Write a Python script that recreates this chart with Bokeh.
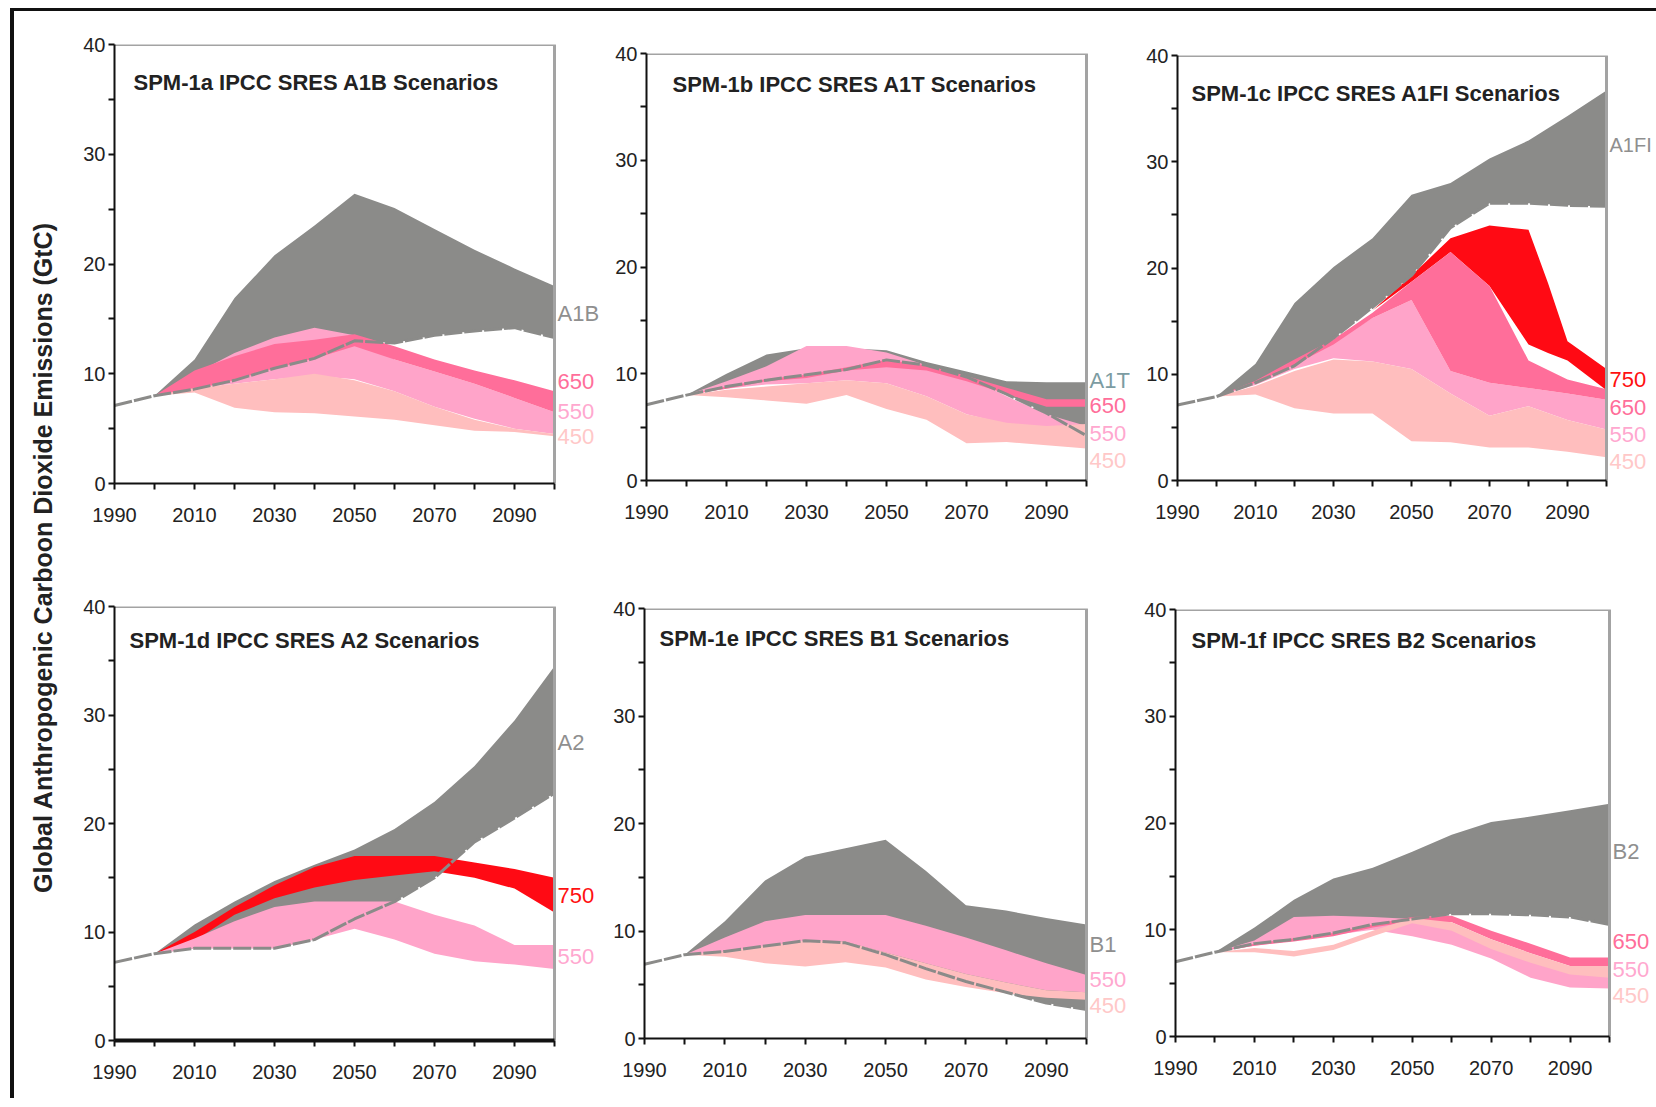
import math
from bokeh.plotting import figure
from bokeh.models import Range1d, FixedTicker, Label, Div, Spacer
from bokeh.layouts import row, column
from bokeh.embed import file_html
from bokeh.resources import INLINE

# ---------------- data (GtC) ----------------
YEARS = [2000, 2010, 2020, 2030, 2040, 2050, 2060, 2070, 2080, 2090, 2100]
LINE_YEARS = [1990] + YEARS

# SPM-1a  A1B
A_GRAY_HI = [8.0, 11.3, 16.9, 20.8, 23.5, 26.4, 25.1, 23.2, 21.3, 19.6, 18.0]
A_LINE = [7.1, 8.0, 8.6, 9.4, 10.5, 11.4, 13.0, 12.8, 13.5, 13.9, 14.2, 13.3]
A_650_HI = [8.0, 10.3, 11.6, 12.7, 13.1, 13.6, 12.5, 11.3, 10.3, 9.4, 8.4]
A_650_LO = [8.0, 8.6, 9.4, 10.5, 11.4, 12.5, 11.3, 10.2, 9.1, 7.8, 6.5]
A_550_HI = [8.0, 10.0, 11.9, 13.3, 14.2, 13.5, 11.3, 10.2, 9.1, 7.8, 6.5]
A_550_LO = [8.0, 8.7, 9.1, 9.5, 9.8, 9.5, 8.4, 7.0, 5.9, 5.0, 4.5]
A_450_HI = [8.0, 8.7, 9.1, 9.5, 10.0, 9.4, 8.4, 7.0, 5.8, 5.0, 4.5]
A_450_LO = [8.0, 8.3, 6.9, 6.5, 6.4, 6.1, 5.8, 5.3, 4.8, 4.7, 4.3]

# SPM-1b  A1T
B_GRAY_HI = [8.0, 10.0, 11.8, 12.4, 12.4, 12.2, 11.1, 10.2, 9.3, 9.2, 9.2]
B_LINE = [7.1, 8.0, 8.8, 9.4, 9.9, 10.4, 11.3, 10.8, 9.7, 8.1, 6.3, 4.2]
B_650_HI = [8.0, 8.8, 9.5, 9.9, 10.6, 11.3, 10.8, 9.8, 8.7, 7.6, 7.6]
B_650_LO = [8.0, 8.6, 9.3, 9.6, 10.3, 10.6, 10.3, 9.3, 8.1, 6.9, 6.9]
B_550_HI = [8.0, 9.3, 10.7, 12.6, 12.6, 12.0, 10.8, 9.8, 7.9, 6.2, 5.1]
B_550_LO = [8.0, 8.6, 9.0, 9.1, 9.4, 9.1, 7.9, 6.2, 5.3, 4.8, 4.0]
B_450_HI = [8.0, 8.5, 8.8, 9.1, 9.4, 9.1, 7.9, 6.2, 5.4, 5.1, 5.3]
B_450_LO = [8.0, 7.8, 7.5, 7.2, 8.0, 6.7, 5.7, 3.5, 3.6, 3.3, 3.0]

# SPM-1c  A1FI
C_GRAY_HI = [7.9, 11.0, 16.7, 20.1, 22.8, 26.9, 28.0, 30.3, 32.0, 34.3, 36.7]
C_LINE = [7.1, 7.9, 9.2, 10.8, 13.4, 16.3, 19.3, 23.8, 26.1, 26.1, 25.9, 25.8]
C_750_YEARS = [2040, 2050, 2060, 2070, 2080, 2085, 2090, 2100]
C_750_HI = [16.0, 19.3, 22.8, 24.0, 23.6, 18.6, 13.1, 10.5]
C_750_LO = [16.0, 18.7, 21.5, 18.3, 12.8, 12.0, 11.3, 8.5]
C_650_HI = [7.9, 9.4, 11.4, 13.3, 15.8, 18.7, 21.5, 18.3, 11.3, 9.5, 8.6]
C_650_LO = [7.9, 9.2, 10.9, 12.8, 15.3, 17.0, 10.3, 9.2, 8.7, 8.2, 7.6]
C_550_HI = [7.9, 9.2, 11.2, 13.0, 15.3, 17.0, 10.3, 9.2, 8.7, 8.2, 7.6]
C_550_LO = [7.9, 9.0, 10.5, 11.5, 11.2, 10.5, 8.2, 6.1, 7.0, 5.7, 4.8]
C_450_HI = [7.9, 8.9, 10.3, 11.4, 11.2, 10.5, 8.2, 6.1, 7.0, 5.7, 4.8]
C_450_LO = [7.9, 8.1, 6.8, 6.3, 6.3, 3.7, 3.6, 3.1, 3.1, 2.7, 2.2]

# SPM-1d  A2
D_GRAY_HI = [8.0, 10.7, 12.8, 14.7, 16.2, 17.6, 19.5, 22.0, 25.3, 29.5, 34.5]
D_LINE = [7.2, 8.0, 8.5, 8.5, 8.5, 9.3, 11.2, 12.8, 15.0, 18.3, 20.5, 22.8]
D_750_HI = [8.0, 10.0, 12.3, 14.3, 16.0, 17.0, 17.0, 17.0, 16.4, 15.8, 15.0]
D_750_LO = [8.0, 9.2, 11.6, 13.1, 14.1, 14.8, 15.2, 15.6, 15.0, 14.0, 11.8]
D_550_HI = [8.0, 9.4, 11.0, 12.3, 12.8, 12.8, 12.8, 11.6, 10.6, 8.8, 8.8]
D_550_LO = [8.0, 8.5, 8.5, 8.5, 9.3, 10.3, 9.3, 8.0, 7.3, 7.0, 6.6]

# SPM-1e  B1
E_GRAY_HI = [7.8, 10.9, 14.7, 16.9, 17.7, 18.5, 15.6, 12.4, 11.9, 11.2, 10.6]
E_LINE = [6.9, 7.8, 8.1, 8.6, 9.1, 8.9, 7.8, 6.5, 5.3, 4.3, 3.3, 2.7]
E_550_HI = [7.8, 9.4, 10.9, 11.5, 11.5, 11.5, 10.5, 9.4, 8.2, 7.0, 5.9]
E_550_LO = [7.8, 8.1, 8.6, 9.1, 9.0, 8.0, 7.0, 6.0, 5.2, 4.5, 4.3]
E_450_HI = [7.8, 8.1, 8.6, 9.1, 9.0, 8.0, 7.0, 6.0, 5.2, 4.5, 4.3]
E_450_LO = [7.8, 7.6, 7.0, 6.7, 7.1, 6.6, 5.5, 4.8, 4.2, 3.8, 3.6]

# SPM-1f  B2
F_GRAY_HI = [7.9, 10.2, 12.8, 14.8, 15.8, 17.3, 18.9, 20.1, 20.6, 21.2, 21.8]
F_LINE = [7.0, 7.9, 8.7, 9.1, 9.7, 10.5, 11.0, 11.5, 11.5, 11.4, 11.2, 10.5]
F_650_HI = [7.9, 8.7, 9.2, 9.7, 10.5, 11.2, 11.3, 9.9, 8.7, 7.4, 7.4]
F_650_LO = [7.9, 8.5, 8.9, 9.4, 10.2, 10.8, 10.7, 9.1, 7.8, 6.6, 6.6]
F_550_HI = [7.9, 9.0, 11.2, 11.3, 11.2, 11.0, 10.2, 8.9, 7.5, 6.4, 6.3]
F_550_LO = [7.9, 8.5, 9.0, 9.5, 10.0, 9.4, 8.6, 7.3, 5.5, 4.6, 4.5]
F_450_HI = [7.9, 8.3, 8.0, 8.6, 9.9, 11.1, 10.7, 9.1, 7.8, 6.6, 6.6]
F_450_LO = [7.9, 7.9, 7.5, 8.1, 9.4, 10.6, 9.9, 8.2, 6.9, 5.8, 5.5]

X_MAJOR = [1990, 2010, 2030, 2050, 2070, 2090]
X_MINOR = [2000, 2020, 2040, 2060, 2080, 2100]
Y_MAJOR = [0, 10, 20, 30, 40]
Y_MINOR = [5, 15, 25, 35]

# ---------------- styles ----------------
FONT = "Liberation Sans, Arial, sans-serif"
GRAY = "#8b8b89"
RED = "#ff0a14"
C650 = "#ff6e9a"
C550 = "#ffa4c9"
C450 = "#ffbebe"
T_GRAY = "#8f8f8f"
T_A1T = "#7c9ca2"
T_750 = "#ff1010"
T_650 = "#ff6e9a"
T_550 = "#ffa8cf"
T_450 = "#ffc8c8"

X0, X1 = X_MAJOR[0], X_MINOR[-1]
Y0, Y1 = Y_MAJOR[0], Y_MAJOR[-1]


def panel(title, bands, line, labels, W, H, bl, fw, bt, bb, tdx, tdy, xw=2):
    # the frame runs to the right edge of the canvas so that the end labels are not clipped;
    # the 1990-2100 span keeps its fw pixels
    x_end = X0 + (X1 - X0) * (W - bl) / fw
    p = figure(width=W, height=H, x_range=Range1d(X0, x_end), y_range=Range1d(Y0, Y1),
               output_backend="svg", toolbar_location=None, title=None,
               min_border_left=bl, min_border_right=0, min_border_top=bt, min_border_bottom=bb,
               background_fill_color="white", border_fill_color="white",
               outline_line_color=None)
    p.grid.visible = False
    for xs, lo, hi, col in bands:
        p.varea(x=xs, y1=lo, y2=hi, fill_color=col)
    p.line(LINE_YEARS, line, line_color=GRAY, line_width=3, line_dash="18 2")
    # grey box edge on top and right of the 1990-2100 area
    p.line([X0, X1, X1], [Y1, Y1, Y0], line_color="#a3a3a3", line_width=3)

    p.xaxis.ticker = FixedTicker(ticks=X_MAJOR, minor_ticks=X_MINOR)
    p.yaxis.ticker = FixedTicker(ticks=Y_MAJOR, minor_ticks=Y_MINOR)
    p.xaxis.bounds = (X0, X1)
    for ax in (p.xaxis, p.yaxis):
        ax.axis_line_color = "#111111"
        ax.major_tick_line_color = "#111111"
        ax.minor_tick_line_color = "#111111"
        ax.major_tick_line_width = 2
        ax.minor_tick_line_width = 2
        ax.major_tick_in = 0
        ax.minor_tick_in = 0
        ax.major_tick_out = 6
        ax.minor_tick_out = 6
        ax.major_label_text_font = FONT
        ax.major_label_text_font_size = "20px"
        ax.major_label_text_color = "#222222"
    p.xaxis.axis_line_width = xw
    p.yaxis.axis_line_width = 2
    p.xaxis.major_label_standoff = 18
    p.yaxis.major_label_standoff = 3

    p.add_layout(Label(x=X0, y=Y1, x_offset=tdx, y_offset=-tdy, text=title,
                       text_font=FONT, text_font_style="bold", text_font_size="22px",
                       text_color="#222222", text_baseline="middle", text_align="left"))
    for txt, yv, col in labels:
        size = "20px" if len(txt) > 3 else "22px"
        p.add_layout(Label(x=X1, y=yv, x_offset=3, text=txt, text_font=FONT,
                           text_font_size=size, text_color=col,
                           text_baseline="middle", text_align="left"))
    # wrap in its own column so that rows do not align the plot frames
    return column(p, margin=0)


fa = panel("SPM-1a IPCC SRES A1B Scenarios",
           [(YEARS, A_LINE[1:], A_GRAY_HI, GRAY), (YEARS, A_550_LO, A_550_HI, C550),
            (YEARS, A_650_LO, A_650_HI, C650), (YEARS, A_450_LO, A_450_HI, C450)],
           A_LINE, [("A1B", 15.5, T_GRAY), ("650", 9.3, T_650), ("550", 6.6, T_550), ("450", 4.3, T_450)],
           530, 545, 44, 440, 33, 73, 19, 38)
fb = panel("SPM-1b IPCC SRES A1T Scenarios",
           [(YEARS, B_LINE[1:], B_GRAY_HI, GRAY), (YEARS, B_550_LO, B_550_HI, C550),
            (YEARS, B_650_LO, B_650_HI, C650), (YEARS, B_450_LO, B_450_HI, C450)],
           B_LINE, [("A1T", 9.4, T_A1T), ("650", 7.0, T_650), ("550", 4.4, T_550), ("450", 1.9, T_450)],
           530, 545, 46, 440, 42, 76, 26, 31)
fc = panel("SPM-1c IPCC SRES A1FI Scenarios",
           [(YEARS, C_LINE[1:], C_GRAY_HI, GRAY), (C_750_YEARS, C_750_LO, C_750_HI, RED),
            (YEARS, C_550_LO, C_550_HI, C550), (YEARS, C_650_LO, C_650_HI, C650),
            (YEARS, C_450_LO, C_450_HI, C450)],
           C_LINE, [("A1FI", 31.6, T_GRAY), ("750", 9.5, T_750), ("650", 6.9, T_650),
                    ("550", 4.3, T_550), ("450", 1.8, T_450)],
           526, 545, 47, 429, 44, 76, 14, 38)
fd = panel("SPM-1d IPCC SRES A2 Scenarios",
           [(YEARS, D_LINE[1:], D_GRAY_HI, GRAY), (YEARS, D_750_LO, D_750_HI, RED),
            (YEARS, D_550_LO, D_550_HI, C550)],
           D_LINE, [("A2", 27.5, T_GRAY), ("750", 13.4, T_750), ("550", 7.7, T_550)],
           530, 542, 44, 440, 50, 58, 15, 34, xw=4)
fe = panel("SPM-1e IPCC SRES B1 Scenarios",
           [(YEARS, E_LINE[1:], E_GRAY_HI, GRAY), (YEARS, E_550_LO, E_550_HI, C550),
            (YEARS, E_450_LO, E_450_HI, C450)],
           E_LINE, [("B1", 8.7, T_GRAY), ("550", 5.5, T_550), ("450", 3.1, T_450)],
           530, 542, 44, 442, 52, 60, 15, 30)
ff = panel("SPM-1f IPCC SRES B2 Scenarios",
           [(YEARS, F_LINE[1:], F_GRAY_HI, GRAY), (YEARS, F_550_LO, F_550_HI, C550),
            (YEARS, F_650_LO, F_650_HI, C650), (YEARS, F_450_LO, F_450_HI, C450)],
           F_LINE, [("B2", 17.3, T_GRAY), ("650", 8.9, T_650), ("550", 6.3, T_550), ("450", 3.8, T_450)],
           526, 542, 45, 434, 53, 62, 16, 31)

# y-axis title strip
ylab = figure(width=56, height=1087, x_range=Range1d(0, 56), y_range=Range1d(0, 1087),
              output_backend="svg", toolbar_location=None, x_axis_type=None, y_axis_type=None,
              title=None, min_border=0, min_border_left=0, min_border_right=0,
              min_border_top=0, min_border_bottom=0,
              outline_line_color=None, background_fill_color="white", border_fill_color="white")
ylab.grid.visible = False
ylab.add_layout(Label(x=28, y=541, angle=math.pi / 2,
                      text="Global Anthropogenic Carboon Dioxide Emissions (GtC)",
                      text_font=FONT, text_font_style="bold",
                      text_font_size="25px", text_color="#222222",
                      text_align="center", text_baseline="middle"))

top_line = row(Spacer(width=10, height=3, margin=0),
               Div(text="", width=1646, height=3, margin=0, styles={"background-color": "#111111"}))
body = row(Spacer(width=10, height=1087, margin=0),
           Div(text="", width=4, height=1087, margin=0, styles={"background-color": "#111111"}),
           ylab,
           column(row(fa, fb, fc), row(fd, fe, ff)))
page = column(Spacer(width=10, height=8, margin=0), top_line, body)

open("out.html", "w").write(file_html(page, INLINE))
